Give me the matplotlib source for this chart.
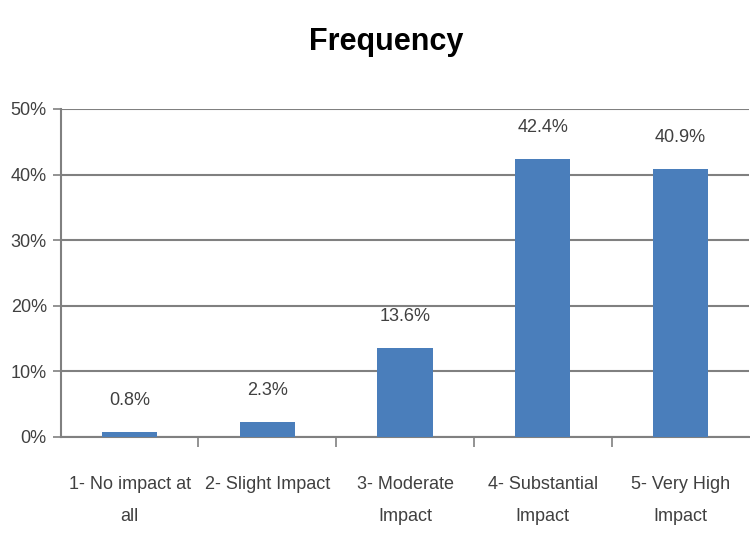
import matplotlib.pyplot as plt
from matplotlib.ticker import FuncFormatter

categories = ["1- No impact at\nall", "2- Slight Impact", "3- Moderate\nImpact",
              "4- Substantial\nImpact", "5- Very High\nImpact"]
values = [0.8, 2.3, 13.6, 42.4, 40.9]
labels = ["0.8%", "2.3%", "13.6%", "42.4%", "40.9%"]

plt.rcParams['font.family'] = ['Liberation Sans Narrow', 'Liberation Sans', 'DejaVu Sans']
text_color = "#404040"
grid_color = "#808080"

fig = plt.figure(figsize=(7.5, 5.34), dpi=100)
ax = fig.add_axes([0.081, 0.182, 0.918, 0.614])

x = range(len(categories))
ax.bar(x, values, width=0.4, color="#4a7ebb", zorder=3)
for xi, v, lab in zip(x, values, labels):
    ax.text(xi, v + 3.5, lab, ha="center", va="bottom", fontsize=13, color=text_color)

ax.set_xlim(-0.5, len(categories) - 0.5)
ax.set_ylim(0, 50)
ax.set_yticks(range(0, 51, 10))
ax.yaxis.set_major_formatter(FuncFormatter(lambda v, p: f"{int(v)}%"))
ax.grid(axis="y", color=grid_color, linewidth=1.5, zorder=0)

ax.set_xticks([i + 0.5 for i in range(len(categories) - 1)], minor=False)
ax.set_xticklabels([])
ax.set_xticks(list(x), minor=True)
ax.set_xticklabels(categories, minor=True, fontsize=13, color=text_color,
                   linespacing=2.2)
ax.tick_params(axis="x", which="minor", length=0, pad=28)
ax.tick_params(axis="x", which="major", length=7, color=grid_color, width=1.2)
ax.tick_params(axis="y", length=6, color=grid_color, width=1.2, labelsize=13,
               labelcolor=text_color, pad=4)

for s in ["top", "right"]:
    ax.spines[s].set_visible(False)
ax.spines["left"].set_color(grid_color)
ax.spines["bottom"].set_color(grid_color)
ax.spines["left"].set_linewidth(1.5)
ax.spines["bottom"].set_linewidth(1.5)

fig.text(0.515, 0.922, "Frequency", ha="center", va="center", fontsize=22,
         fontweight="bold", color="black")

fig.savefig("out.png", dpi=100)
